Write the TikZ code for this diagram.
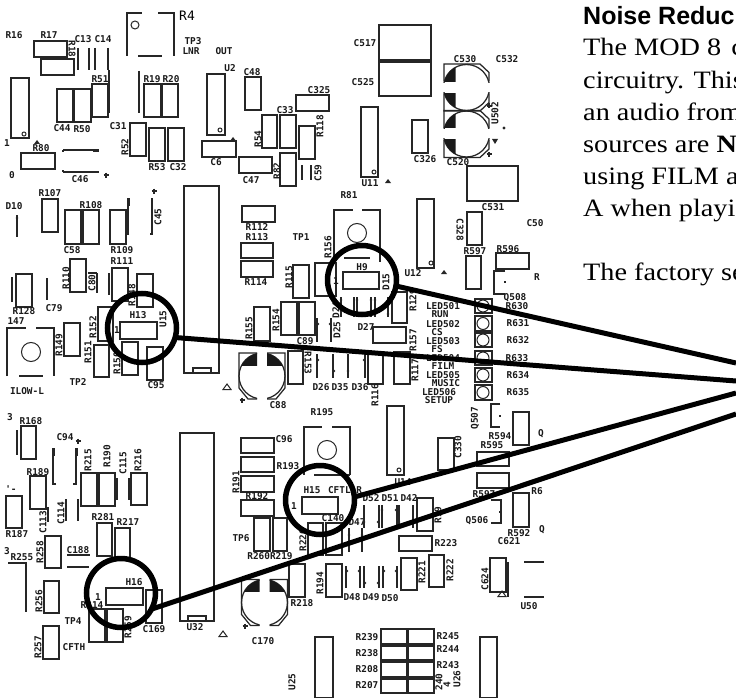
\documentclass[tikz,border=0pt]{standalone}
\usepackage{fontspec}
\setmainfont[FakeStretch=1.13]{Liberation Serif}
\newfontfamily\pcbfont[Scale=1]{DejaVu Sans Mono}
\newfontfamily\headfont{Liberation Sans}
\newcount\lblno
\tikzset{
  part/.style={draw=black!85,line width=1.25pt},
  lbl/.style={font=\pcbfont\bfseries\fontsize{9.4}{10}\selectfont,inner sep=0pt,text=black!90},
  biglbl/.style={font=\pcbfont\fontsize{13}{14}\selectfont,inner sep=0pt},
  zoomring/.style={circle,draw=black,line width=5.5pt,minimum size=69pt,inner sep=0pt,outer sep=0pt},
  callout/.style={draw=black,line width=5pt},
  bodytext/.style={font=\fontsize{25}{28}\selectfont,anchor=base west,inner sep=0pt},
  headtext/.style={font=\headfont\bfseries\fontsize{25}{28}\selectfont,anchor=base west,inner sep=0pt}
}
\newcommand{\Bx}[4]{\draw[part] (#1,#2) rectangle (#3,#4);}
\newcommand{\Ln}[4]{\draw[part] (#1,#2) -- (#3,#4);}
\newcommand{\Tx}[3]{\global\advance\lblno by 1 \node[lbl] (t\the\lblno) at (#1,#2) {#3};}
\newcommand{\Tu}[3]{\global\advance\lblno by 1 \node[lbl,rotate=90] (t\the\lblno) at (#1,#2) {#3};}
\newcommand{\Td}[3]{\global\advance\lblno by 1 \node[lbl,rotate=-90] (t\the\lblno) at (#1,#2) {#3};}
\newcommand{\Dot}[3]{\draw[part,line width=1pt] (#1,#2) circle (#3pt);}
\newcommand{\Blob}[2]{\fill[black!85] (#1,#2) circle (1.4pt);}
\newcommand{\Tri}[2]{\draw[part,line width=1pt] (#1-4,#2+2.5) -- (#1+4,#2+2.5) -- (#1,#2-3) -- cycle;}
\newcommand{\Tsm}[2]{\fill[black!85] (#1-3,#2+2) -- (#1+3,#2+2) -- (#1,#2-2) -- cycle;}
\newcommand{\Pls}[2]{\draw[part] (#1-2.5,#2) -- (#1+2.5,#2) (#1,#2-2.5) -- (#1,#2+2.5);}
\newcommand{\Di}[5]{\draw[part] (#1,#2) -- (#1,#3); \Blob{#4}{#5}}
\newcommand{\ECH}[2]{\begin{scope}[shift={(#1,#2)}]
 \draw[part] (-22.5,-6)--(-22.5,-23.5)--(13.5,-23.5)--(22.5,-15)--(22.5,-6);
 \draw[part] (-22.5,6)--(-22.5,23.5)--(13.5,23.5)--(22.5,15)--(22.5,6);
 \begin{scope}\clip (-30,-30) rectangle (30,-5); \draw[part] (0,0) circle (23pt); \end{scope}
 \begin{scope}\clip (-30,30) rectangle (30,5); \draw[part] (0,0) circle (23pt); \end{scope}
 \begin{scope}\clip (-23,-24) rectangle (-11,-6); \fill[black!90] (0,0) circle (23pt); \end{scope}
 \begin{scope}\clip (-23,24) rectangle (-11,6); \fill[black!90] (0,0) circle (23pt); \end{scope}
\end{scope}}
\newcommand{\ECV}[2]{\begin{scope}[shift={(#1,#2)}]
 \draw[part] (-5,-23)--(-23,-23)--(-23,12)--(-14,23)--(-5,23);
 \draw[part] (5,-23)--(23,-23)--(23,12)--(14,23)--(5,23);
 \begin{scope}\clip (-30,-30) rectangle (-5,30); \draw[part] (0,0) circle (23pt); \end{scope}
 \begin{scope}\clip (30,-30) rectangle (5,30); \draw[part] (0,0) circle (23pt); \end{scope}
 \begin{scope}\clip (-23,-24) rectangle (-5,-11); \fill[black!90] (0,0) circle (23pt); \end{scope}
 \begin{scope}\clip (23,-24) rectangle (5,-11); \fill[black!90] (0,0) circle (23pt); \end{scope}
\end{scope}}
\begin{document}
\begin{tikzpicture}[x=1pt,y=-1pt]
\useasboundingbox (0,0) rectangle (736,698);
\fill[white] (0,0) rectangle (736,698);
% --- top left
\Tx{14}{35}{R16}\Tx{49}{35}{R17}\Bx{34}{41}{67}{57}\Bx{41}{59}{74}{75}\Td{72}{49}{R18}
\Tx{83}{39}{C13}\Tx{103}{39}{C14}
\Ln{78}{48}{78}{70}\Ln{89}{48}{89}{70}\Ln{95}{48}{95}{70}\Ln{108}{48}{108}{70}
\Tx{100}{79}{R51}\Bx{92}{84}{108}{117}\Ln{109}{70}{109}{113}
\Bx{57}{89}{73}{122}\Bx{74}{89}{91}{122}\Tx{62}{128}{C44}\Tx{82}{129}{R50}
\Bx{11}{78}{29}{138}\Dot{24}{134}{2}\Tx{7}{143}{1}\Tsm{37}{142}\Tx{41}{148}{R80}
\Bx{21}{153}{55}{169}\Tx{12}{175}{0}
\Ln{63}{150}{99}{150}\Ln{63}{172}{99}{172}\Ln{63}{150}{63}{152}\Ln{63}{172}{63}{170}
\fill[black!85] (93,149) rectangle (99,151.5);\fill[black!85] (93,171) rectangle (99,173);
\Pls{106}{175}\Tx{80}{179}{C46}
\draw[part] (127,56) -- (127,13) -- (142,13) (158,13) -- (174,13) -- (174,56) (138,56) -- (162,56);
\Dot{135}{25}{4}\node[biglbl] (r4) at (187,16) {R4};
\Tx{193}{41}{TP3}\Tx{191}{51}{LNR}\Tx{224}{51}{OUT}
\Ln{139}{71}{139}{113}\Bx{144}{84}{161}{117}\Bx{162}{84}{178}{117}\Tx{152}{79}{R19}\Tx{171}{79}{R20}
\Tx{118}{126}{C31}\Bx{130}{123}{146}{156}\Tu{125}{147}{R52}
\Bx{149}{128}{165}{161}\Bx{168}{128}{184}{161}\Tx{157}{167}{R53}\Tx{178}{167}{C32}
\Tx{230}{68}{U2}\Bx{207}{74}{225}{135}\Dot{220}{130}{2}\Tsm{233}{139}\Bx{202}{141}{236}{157}\Tx{216}{162}{C6}
\Tx{252}{72}{C48}\Bx{245}{77}{261}{110}\Bx{239}{157}{272}{173}\Tx{251}{180}{C47}
% tall IC 1
\Bx{184}{186}{219}{373}\draw[part] (193,373) -- (193,368) -- (211,368) -- (211,373);
\Bx{242}{206}{275}{222}\Tx{257}{227}{R112}\Tx{257}{237}{R113}\Tx{301}{237}{TP1}
\Tx{50}{193}{R107}\Bx{42}{199}{58}{232}\Tx{91}{205}{R108}\Tx{14}{206}{D10}
\Ln{17}{215}{17}{237}\Blob{17}{218}
\Bx{65}{210}{81}{244}\Bx{83}{210}{99}{244}\Bx{110}{210}{126}{244}
\draw[part] (129,234) -- (128,234) -- (128,198);\fill[black!85] (127,198) rectangle (130,206);
\draw[part] (150,234) -- (152,234) -- (152,198);\fill[black!85] (150.5,198) rectangle (153,206);
\Pls{154}{191}\Tu{158}{217}{C45}
\Tx{72}{250}{C58}\Tx{122}{250}{R109}\Tx{122}{261}{R111}
\Bx{70}{259}{86}{292}\Tu{66}{278}{R110}\Ln{97}{273}{97}{293}\Tu{92}{283}{C80}\Ln{88}{273}{97}{273}
\Bx{16}{274}{32}{307}\Ln{12}{277}{12}{302}\Tx{24}{311}{R128}\Ln{47}{278}{47}{300}\Tx{54}{308}{C79}
\Bx{112}{268}{128}{301}\Ln{109}{273}{109}{295}\Bx{137}{274}{153}{307}\Tu{132}{295}{R148}
\Tx{138}{315}{H13}\Tu{163}{319}{U15}\Bx{120}{322}{157}{339}\Tx{117}{330}{1}
\Bx{98}{307}{113}{341}\Tu{93}{327}{R152}\Bx{64}{323}{80}{356}\Tu{59}{345}{R149}
\Bx{94}{345}{109}{377}\Tu{88}{352}{R151}\Bx{122}{342}{138}{375}\Tu{117}{363}{R150}
\Bx{147}{347}{163}{380}\Tx{156}{385}{C95}
\Tx{16}{321}{147}
\draw[part] (7,376) -- (7,328) -- (26,328) (36,328) -- (54,328) -- (54,376) (19,376) -- (43,376);
\Dot{31}{352}{9.5}\Tx{27}{391}{ILOW-L}\Tx{78}{382}{TP2}
\Tri{227}{387}
% --- lower left
\Tx{10}{417}{3}\Tx{31}{421}{R168}\Bx{21}{426}{36}{459}\Ln{17}{430}{17}{455}
\Tx{65}{437}{C94}\Pls{78}{441}
\draw[part] (56,484) -- (53,484) -- (53,449);\fill[black!85] (52,448) rectangle (54.5,456);
\draw[part] (73,484) -- (76,484) -- (76,449);\fill[black!85] (75,448) rectangle (77.5,456);
\Tx{38}{472}{R189}\Bx{30}{476}{46}{509}\Bx{6}{496}{22}{528}\Tx{17}{534}{R187}\Tx{11}{489}{'-}
\Bx{81}{473}{97}{506}\Tu{88}{460}{R215}\Bx{99}{473}{115}{506}\Tu{107}{456}{R190}
\Tu{123}{463}{C115}\Ln{117}{478}{117}{500}\Ln{129}{478}{129}{500}\Bx{131}{473}{147}{505}\Tu{138}{460}{R216}
\Tu{43}{522}{C113}\Ln{48}{507}{48}{522}\Tu{61}{513}{C114}\Ln{66}{499}{66}{521}\Ln{78}{499}{78}{521}
\Tx{103}{517}{R281}\Tx{128}{522}{R217}\Bx{97}{523}{112}{556}\Bx{115}{528}{130}{560}
\Tu{40}{552}{R258}\Bx{45}{536}{61}{568}\Tx{78}{550}{C188}\Ln{67}{555}{90}{555}\Ln{67}{567}{89}{567}
\Tx{7}{551}{3}\Tx{22}{557}{R255}\draw[part] (8,563) -- (26,563) -- (26,612);
\Bx{44}{581}{59}{613}\Tu{39}{601}{R256}
\Tx{134}{582}{H16}\Bx{106}{588}{143}{605}\Tx{98}{597}{1}\Tx{92}{605}{R214}
\Bx{146}{590}{162}{623}\Tx{154}{629}{C169}\Bx{89}{609}{105}{642}\Bx{107}{609}{123}{642}
\Tu{128}{627}{R259}\Tx{73}{621}{TP4}\Tu{38}{647}{R257}\Bx{43}{626}{59}{659}\Tx{74}{647}{CFTH}
% tall IC 2
\Bx{180}{433}{214}{621}\draw[part] (188,621) -- (188,616) -- (206,616) -- (206,621);
\Tx{195}{627}{U32}\Tri{223}{634}
% --- top middle
\Bx{379}{25}{431}{60}\Bx{379}{62}{431}{96}\Tx{365}{43}{C517}\Tx{363}{82}{C525}
\Tx{465}{59}{C530}\Tx{507}{59}{C532}
\ECH{466.5}{87.5}\ECH{466.5}{134}
\Pls{489}{106}\Pls{489}{154}\Tu{495}{113}{U502}\fill[black!85] (504,128) circle (1.6pt);
\fill[black!85] (492,139) -- (498,139) -- (495,144) -- cycle;
\Bx{412}{120}{428}{153}\Tx{425}{159}{C326}\Tx{458}{162}{C520}
\Bx{467}{166}{518}{201}\Tx{493}{207}{C531}
\Bx{361}{107}{378}{177}\Dot{374}{172}{2}\Tx{370}{183}{U11}\Tsm{388}{181}
\Tx{285}{110}{C33}\Tx{319}{90}{C325}\Bx{296}{95}{329}{111}
\Bx{262}{115}{277}{148}\Tu{258}{139}{R54}\Bx{280}{115}{296}{148}
\Bx{299}{126}{315}{159}\Tu{320}{126}{R118}\Bx{280}{153}{296}{186}\Tu{277}{171}{R82}
\Ln{302}{165}{302}{180}\Ln{311}{165}{311}{180}\Tu{318}{173}{C59}
\Tx{349}{195}{R81}
\draw[part] (334,262) -- (334,210) -- (353,210) (362,210) -- (380,210) -- (380,262) (344,258) -- (370,258);
\Dot{357}{233}{9.5}
\Bx{417}{199}{434}{268}\Dot{431}{263}{2}\Tsm{444}{272}\Tx{413}{273}{U12}
\Bx{467}{212}{482}{245}\Td{460}{230}{C328}\Tx{535}{223}{C50}
% --- centre
\Bx{241}{243}{273}{258}\Bx{241}{261}{273}{277}\Tx{256}{282}{R114}
\Bx{293}{265}{309}{298}\Tu{289}{277}{R115}\Bx{315}{263}{336}{296}\Tu{328}{247}{R156}
\Bx{343}{272}{379}{289}\Tx{362}{267}{H9}\Tx{336}{281}{1}\Tu{386}{282}{D15}\Tx{366}{327}{D27}
\Tu{336}{310}{D24}
\Di{341}{297}{317}{341}{300}\Di{354}{297}{317}{354}{314}\Di{357}{297}{317}{357}{300}
\Di{371}{297}{317}{371}{300}\Di{375}{297}{317}{375}{300}\Di{388}{297}{317}{388}{314}
\Bx{392}{292}{407}{323}\Tu{413}{300}{R129}\Bx{373}{327}{406}{343}\Tu{413}{340}{R157}
\Bx{281}{302}{297}{335}\Tu{276}{320}{R154}\Bx{299}{302}{315}{335}
\Bx{254}{307}{270}{341}\Tu{249}{328}{R155}\Tx{305}{341}{C89}
\Di{317}{318}{342}{318}{324}\Di{331}{318}{342}{330}{324}\Tu{337}{330}{D25}
\Bx{288}{351}{303}{384}\Td{308}{363}{R153}
\Di{317}{354}{378}{318}{360}\Di{333}{354}{378}{334}{371}\Di{348}{354}{378}{348}{371}\Di{365}{354}{378}{364}{360}
\Tx{321}{387}{D26}\Tx{340}{387}{D35}\Tx{360}{387}{D36}
\Bx{368}{352}{383}{384}\Tu{375}{395}{R116}\Bx{394}{352}{410}{384}\Tu{415}{370}{R117}
\Tx{443}{306}{LED501}\Tx{440}{314}{RUN}\Tx{443}{324}{LED502}\Tx{437}{332}{CS}
\Tx{443}{341}{LED503}\Tx{437}{349}{FS}\Tx{443}{358}{LED504}\Tx{443}{366}{FILM}
\Tx{443}{375}{LED505}\Tx{446}{383}{MUSIC}\Tx{439}{392}{LED506}\Tx{439}{400}{SETUP}
\Bx{475}{299}{492}{313}\Bx{475}{316}{492}{331}\Bx{475}{333}{492}{347}\Bx{475}{351}{492}{365}\Bx{475}{368}{492}{382}\Bx{475}{385}{492}{400}
\Dot{483}{306}{6}\Dot{483}{323.5}{6}\Dot{483}{340}{6}\Dot{483}{358}{6}\Dot{483}{375}{6}\Dot{483}{392.5}{6}
\Tx{517}{306}{R630}\Tx{518}{323}{R631}\Tx{518}{340}{R632}\Tx{517}{358}{R633}\Tx{518}{375}{R634}\Tx{518}{392}{R635}
\Tx{475}{251}{R597}\Bx{466}{256}{481}{289}\Tx{508}{249}{R596}\Bx{496}{253}{529}{269}\Tx{537}{277}{R}
\draw[part] (505,271) -- (494,271) -- (494,294) -- (505,294);\Ln{505}{281}{505}{283}\Tx{515}{298}{Q508}
\ECV{262}{376}\Pls{242}{400}\Tx{278}{405}{C88}
\Tx{322}{412}{R195}
\draw[part] (304,475) -- (304,427) -- (322,427) (332,427) -- (350,427) -- (350,475) (314,475) -- (350,475);
\Dot{327}{450}{9.5}\Tx{284}{439}{C96}
\Bx{241}{438}{274}{453}\Bx{241}{457}{274}{472}\Bx{241}{476}{274}{492}\Bx{241}{500}{274}{516}
\Tu{236}{482}{R191}\Tx{257}{496}{R192}\Tx{288}{466}{R193}
\Bx{387}{406}{404}{475}\Dot{399}{470}{2}\Tx{403}{482}{U14}
\Bx{438}{438}{454}{470}\Tu{458}{447}{C330}
\Tx{500}{436}{R594}\Tx{492}{445}{R595}\Bx{477}{452}{509}{466}\Bx{477}{473}{509}{488}
\Bx{513}{412}{529}{445}\Tx{541}{434}{Q}\Tu{475}{418}{Q507}
\draw[part] (500,404) -- (491,404) -- (491,427) -- (500,427);\Ln{500}{415}{500}{417}
\Tx{537}{491}{R6}\Tx{484}{494}{R597}
\draw[part] (491,500) -- (501,500) -- (501,523) -- (491,523);\Ln{500}{511}{500}{513}
\Tx{477}{521}{Q506}\Bx{513}{493}{529}{527}\Tx{519}{533}{R592}\Tx{542}{530}{Q}\Tx{509}{541}{C621}
\Bx{490}{558}{506}{592}\Tu{485}{579}{C624}\Ln{508}{562}{508}{597}\Tri{502}{594}
\Ln{524}{562}{544}{562}\Ln{524}{597}{544}{597}\Tx{529}{606}{U50}
% --- lower centre
\Tx{312}{490}{H15}\Tx{345}{490}{CFTL-R}\Bx{302}{497}{338}{514}\Tx{294}{506}{1}\Tx{333}{518}{C140}
\Bx{308}{523}{323}{555}\Bx{326}{523}{342}{555}\Tu{303}{540}{R220}\Tx{357}{522}{D47}
\Di{349}{528}{552}{349}{535}\Di{362}{528}{552}{362}{535}
\Tx{371}{498}{D52}\Tx{390}{498}{D51}\Tx{409}{498}{D42}
\Di{364}{505}{528}{364}{522}\Di{379}{505}{528}{378}{522}\Di{382}{505}{528}{382}{510}\Di{397}{505}{528}{396}{510}\Di{399}{505}{528}{399}{522}\Di{413}{505}{528}{413}{522}
\Bx{417}{498}{433}{531}\Tu{438}{515}{R19}\Bx{399}{536}{432}{551}\Tx{446}{543}{R223}
\Bx{401}{558}{417}{590}\Tu{422}{572}{R221}\Bx{429}{555}{444}{587}\Tu{450}{570}{R222}
\Bx{326}{564}{342}{597}\Tu{320}{583}{R194}
\Di{346}{566}{588}{347}{571}\Di{360}{566}{588}{359}{571}\Di{364}{566}{588}{365}{583}\Di{379}{566}{588}{378}{583}\Di{383}{566}{588}{384}{571}\Di{397}{566}{588}{396}{571}
\Tx{352}{597}{D48}\Tx{371}{597}{D49}\Tx{390}{598}{D50}
\Bx{289}{564}{305}{597}\Tx{302}{603}{R218}\Tx{270}{556}{R260R219}\Tx{241}{538}{TP6}
\Bx{254}{518}{270}{551}\Bx{273}{518}{287}{551}
\ECV{264.5}{602.5}\Pls{245}{626}\Tx{263}{641}{C170}
\Bx{381}{629}{407}{644}\Bx{408}{629}{434}{644}\Bx{381}{646}{407}{660}\Bx{408}{646}{434}{660}
\Bx{381}{662}{407}{677}\Bx{408}{662}{434}{677}\Bx{381}{679}{407}{693}\Bx{408}{679}{434}{693}
\Tx{367}{637}{R239}\Tx{367}{653}{R238}\Tx{367}{669}{R208}\Tx{367}{685}{R207}
\Tx{448}{636}{R245}\Tx{448}{649}{R244}\Tx{448}{665}{R243}
\Tu{439}{682}{240}\Tu{447}{685}{4}\Tu{457}{679}{U26}\Tu{292}{682}{U25}
\Bx{315}{637}{333}{698}\Bx{480}{637}{497}{698}
% --- zoom rings and callouts
\node[zoomring] (ringA) at (362,280) {};
\node[zoomring] (ringB) at (142,328) {};
\node[zoomring] (ringC) at (320,500) {};
\node[zoomring] (ringD) at (121,593) {};
\coordinate (endA) at (736,363);
\coordinate (endB) at (736,381);
\coordinate (endC) at (736,393);
\coordinate (endD) at (736,414);
\draw[callout] (ringA.-10) -- (endA);
\draw[callout] (ringB.-16) -- (endB);
\draw[callout] (ringC.5) -- (endC);
\draw[callout] (ringD.-28) -- (endD);
% --- prose
\node[headtext] (h1) at (583,25) {Noise Reduc};
\node[bodytext] (p1) at (583,56) {The MOD 8\hspace{10pt}c};
\node[bodytext] (p2) at (583,89) {circuitry. This};
\node[bodytext] (p3) at (583,121) {an audio from};
\node[bodytext] (p4) at (583,153) {sources are \textbf{N}};
\node[bodytext] (p5) at (583,184) {using FILM a};
\node[bodytext] (p6) at (583,216) {A when playi};
\node[bodytext] (p7) at (583,280) {The factory se};
\end{tikzpicture}
\end{document}
